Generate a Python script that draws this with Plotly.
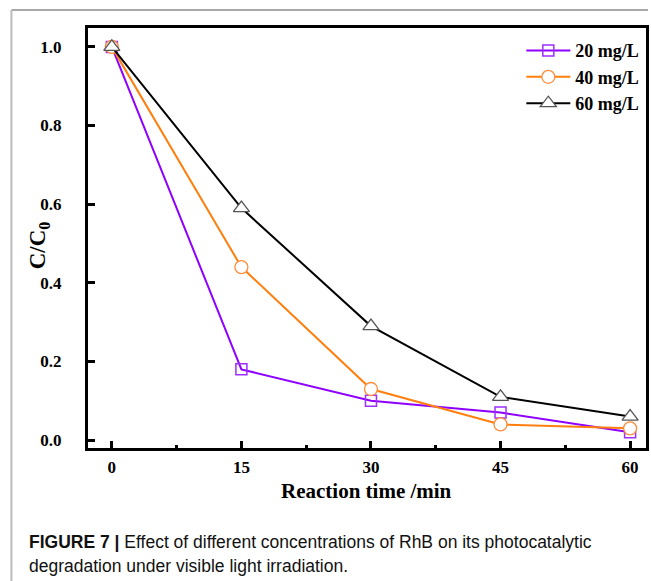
import plotly.graph_objects as go

time_min = [0, 15, 30, 45, 60]
c20 = [1.0, 0.18, 0.10, 0.07, 0.02]
c40 = [1.0, 0.44, 0.13, 0.04, 0.03]
c60 = [1.0, 0.59, 0.29, 0.11, 0.06]
series_names = ["20 mg/L", "40 mg/L", "60 mg/L"]
x_ticks = [0, 15, 30, 45, 60]
y_ticks = [0.0, 0.2, 0.4, 0.6, 0.8, 1.0]

W, H = 651, 581
L, R, T, B = 88, 2, 28, 133
pw, ph = W - L - R, H - T - B

def px(x):
    return (x - L) / pw

def py(y):
    return (H - B - y) / ph

fig = go.Figure()
fig.add_trace(go.Scatter(x=time_min, y=c20, name=series_names[0], mode="lines+markers",
                         line=dict(color="#8F00FF", width=2),
                         marker=dict(symbol="square-open", size=11, color="#9B30FF",
                                     line=dict(width=1.5))))
fig.add_trace(go.Scatter(x=time_min, y=c40, name=series_names[1], mode="lines+markers",
                         line=dict(color="#FF7F0E", width=2),
                         marker=dict(symbol="circle", size=13, color="white",
                                     line=dict(width=1.3, color="#FF8C3A"))))
fig.add_trace(go.Scatter(x=time_min, y=c60, name=series_names[2], mode="lines+markers",
                         line=dict(color="black", width=2),
                         marker=dict(symbol="triangle-up", size=14, color="white",
                                     line=dict(width=1.3, color="#555555"))))

fig.update_layout(
    width=W, height=H,
    margin=dict(l=L, r=R, t=T, b=B),
    paper_bgcolor="white", plot_bgcolor="white",
    showlegend=True,
    legend=dict(x=0.997, xanchor="right", y=0.99, yanchor="top",
                font=dict(family="Liberation Serif", size=18, color="black", weight="bold"),
                bgcolor="rgba(0,0,0,0)", itemwidth=44, tracegroupgap=0),
    xaxis=dict(range=[-2.76, 61.84], tickvals=x_ticks, ticks="inside", ticklen=7, tickwidth=2.5,
               tickcolor="black", showline=True, linewidth=3, linecolor="black", mirror=True,
               showgrid=False, zeroline=False,
               tickfont=dict(family="Liberation Serif", size=17, color="black", weight="bold"),
               ticklabelstandoff=2,
               minor=dict(ticks="inside", ticklen=3, tickwidth=2.5, tickcolor="black", dtick=7.5,
                          tick0=0, showgrid=False)),
    yaxis=dict(range=[-0.02, 1.048], tickvals=y_ticks, tickformat=".1f", ticks="inside", ticklen=7,
               tickwidth=2.5, tickcolor="black", showline=True, linewidth=3, linecolor="black",
               mirror=True, showgrid=False, zeroline=False,
               tickfont=dict(family="Liberation Serif", size=17, color="black", weight="bold"),
               ticklabelstandoff=20),
)

# axis titles
fig.add_annotation(xref="paper", yref="paper", x=px(368), y=py(491), xanchor="center", yanchor="middle",
                   showarrow=False, text="<b>Reaction time /min</b>",
                   font=dict(family="Liberation Serif", size=21, color="black"))
fig.add_annotation(xref="paper", yref="paper", x=px(39), y=py(245), xanchor="center", yanchor="middle",
                   showarrow=False, textangle=-90, text="<b>C/C<sub>0</sub></b>",
                   font=dict(family="Liberation Serif", size=23, color="black"))

# outer page frame
fig.add_shape(type="line", xref="paper", yref="paper", x0=px(11), x1=px(651), y0=py(10), y1=py(10),
              line=dict(color="#555555", width=1.2))
fig.add_shape(type="line", xref="paper", yref="paper", x0=px(11), x1=px(11), y0=py(10), y1=py(581),
              line=dict(color="#BBBBBB", width=2))

cap_font = dict(family="Liberation Sans", size=17.5, color="#111111")
fig.add_annotation(xref="paper", yref="paper", x=px(27), y=py(542), xanchor="left", yanchor="middle",
                   showarrow=False, align="left", font=cap_font,
                   text="<b>FIGURE 7 |</b> Effect of different concentrations of RhB on its photocatalytic")
fig.add_annotation(xref="paper", yref="paper", x=px(27), y=py(566), xanchor="left", yanchor="middle",
                   showarrow=False, align="left", font=cap_font,
                   text="degradation under visible light irradiation.")

fig.write_html("out.html")
